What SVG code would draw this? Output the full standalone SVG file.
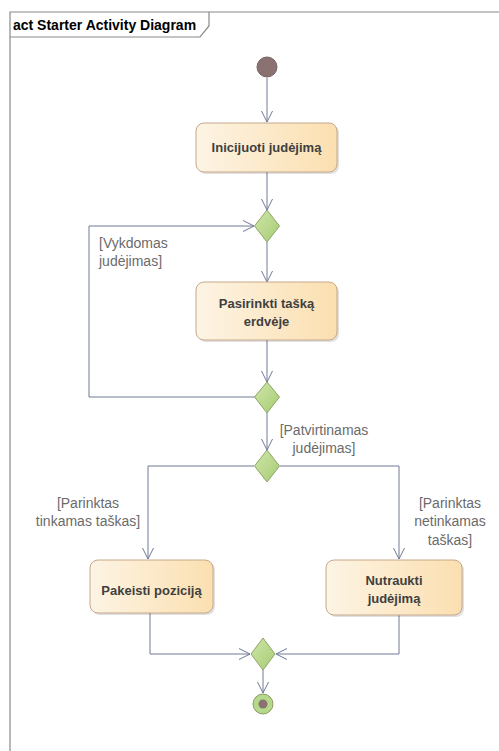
<svg xmlns="http://www.w3.org/2000/svg" width="499" height="751" viewBox="0 0 499 751">
  <defs>
    <linearGradient id="actFill" x1="0" y1="0" x2="1" y2="0">
      <stop offset="0" stop-color="#fdf4e4"/>
      <stop offset="1" stop-color="#fbdfb0"/>
    </linearGradient>
    <linearGradient id="decFill" x1="0" y1="0" x2="1" y2="1">
      <stop offset="0" stop-color="#cfe7a8"/>
      <stop offset="1" stop-color="#a6cb74"/>
    </linearGradient>
    <marker id="open" viewBox="0 0 12 12" refX="11" refY="6" markerWidth="12" markerHeight="12" markerUnits="userSpaceOnUse" orient="auto">
      <path d="M0,0.5 L11,6 L0,11.5" fill="none" stroke="#6f7a94" stroke-width="1"/>
    </marker>
  </defs>
  <style>
    .frame { fill: none; stroke: #8a8a8a; stroke-width: 1.2; }
    .title { font-family: "Liberation Sans", Arial, sans-serif; font-size: 14px; font-weight: bold; fill: #000; }
    .act { fill: url(#actFill); stroke: #c6a88a; stroke-width: 1; }
    .shadow { fill: #000; opacity: 0.12; }
    .atext { font-family: "Liberation Sans", Arial, sans-serif; font-size: 13px; font-weight: bold; fill: #3f3f3f; text-anchor: middle; }
    .dec { fill: url(#decFill); stroke: #8ea466; stroke-width: 1; }
    .edge { fill: none; stroke: #6f7a94; stroke-width: 1; }
    .guard { font-family: "Liberation Sans", Arial, sans-serif; font-size: 14px; fill: #6b6b6b; text-anchor: middle; }
    .guard-l { text-anchor: start; }
  </style>

  <!-- frame with name tab -->
  <g id="frame">
    <path class="frame" d="M10,751 L10,12 L499,12"/>
    <path class="frame" d="M10,37 L200,37 L209,26 L209,12"/>
    <text class="title" x="13" y="30">act Starter Activity Diagram</text>
  </g>

  <!-- connectors -->
  <g id="connectors">
    <path class="edge" d="M267,78 L267,122" marker-end="url(#open)"/>
    <path class="edge" d="M267,172 L267,210" marker-end="url(#open)"/>
    <path class="edge" d="M267,242 L267,282" marker-end="url(#open)"/>
    <path class="edge" d="M267,340 L267,382" marker-end="url(#open)"/>
    <path class="edge" d="M255,397 L89,397 L89,226 L254,226" marker-end="url(#open)"/>
    <path class="edge" d="M267,413 L267,450" marker-end="url(#open)"/>
    <path class="edge" d="M254,466 L148,466 L148,559" marker-end="url(#open)"/>
    <path class="edge" d="M280,466 L399,466 L399,559" marker-end="url(#open)"/>
    <path class="edge" d="M150,613 L150,654 L250,654" marker-end="url(#open)"/>
    <path class="edge" d="M399,615 L399,654 L276,654" marker-end="url(#open)"/>
    <path class="edge" d="M263,670 L263,693" marker-end="url(#open)"/>
    <text class="guard guard-l" x="99" y="248">[Vykdomas</text>
    <text class="guard guard-l" x="99" y="266">judėjimas]</text>
    <text class="guard" x="324" y="435">[Patvirtinamas</text>
    <text class="guard" x="324" y="453">judėjimas]</text>
    <text class="guard" x="88" y="508">[Parinktas</text>
    <text class="guard" x="88" y="526">tinkamas taškas]</text>
    <text class="guard" x="450" y="508">[Parinktas</text>
    <text class="guard" x="450" y="526">netinkamas</text>
    <text class="guard" x="450" y="545">taškas]</text>
  </g>

  <!-- start -->
  <g id="start">
    <circle cx="267" cy="67" r="10" fill="#8b7272" stroke="#7a6262" stroke-width="1"/>
  </g>

  <g id="inicijuoti">
    <rect class="shadow" x="198" y="125" width="141" height="49" rx="8"/>
    <rect class="act" x="196" y="123" width="141" height="49" rx="8"/>
    <text class="atext" x="266.5" y="152">Inicijuoti judėjimą</text>
  </g>

  <g id="merge1">
    <polygon class="dec" points="267,210 279.5,226 267,242 254.5,226"/>
  </g>

  <g id="pasirinkti">
    <rect class="shadow" x="198" y="284" width="141" height="58" rx="8"/>
    <rect class="act" x="196" y="282" width="141" height="58" rx="8"/>
    <text class="atext" x="266.5" y="308">Pasirinkti tašką</text>
    <text class="atext" x="266.5" y="326">erdvėje</text>
  </g>

  <g id="decision1">
    <polygon class="dec" points="267,382 279.5,397 267,413 254.5,397"/>
  </g>

  <g id="decision2">
    <polygon class="dec" points="267,450 279.5,466 267,482 254.5,466"/>
  </g>

  <g id="pakeisti">
    <rect class="shadow" x="92" y="562" width="123" height="53" rx="8"/>
    <rect class="act" x="90" y="560" width="123" height="53" rx="8"/>
    <text class="atext" x="151.5" y="595">Pakeisti poziciją</text>
  </g>

  <g id="nutraukti">
    <rect class="shadow" x="328" y="562" width="136" height="55" rx="8"/>
    <rect class="act" x="326" y="560" width="136" height="55" rx="8"/>
    <text class="atext" x="394" y="585">Nutraukti</text>
    <text class="atext" x="394" y="603">judėjimą</text>
  </g>

  <g id="merge2">
    <polygon class="dec" points="263,638 275,654 263,670 251,654"/>
  </g>

  <!-- final -->
  <g id="final">
    <circle cx="263" cy="704" r="10" fill="#b5d88a" stroke="#8e9a66" stroke-width="1"/>
    <circle cx="263" cy="704" r="4.5" fill="#8b7272"/>
  </g>
</svg>
